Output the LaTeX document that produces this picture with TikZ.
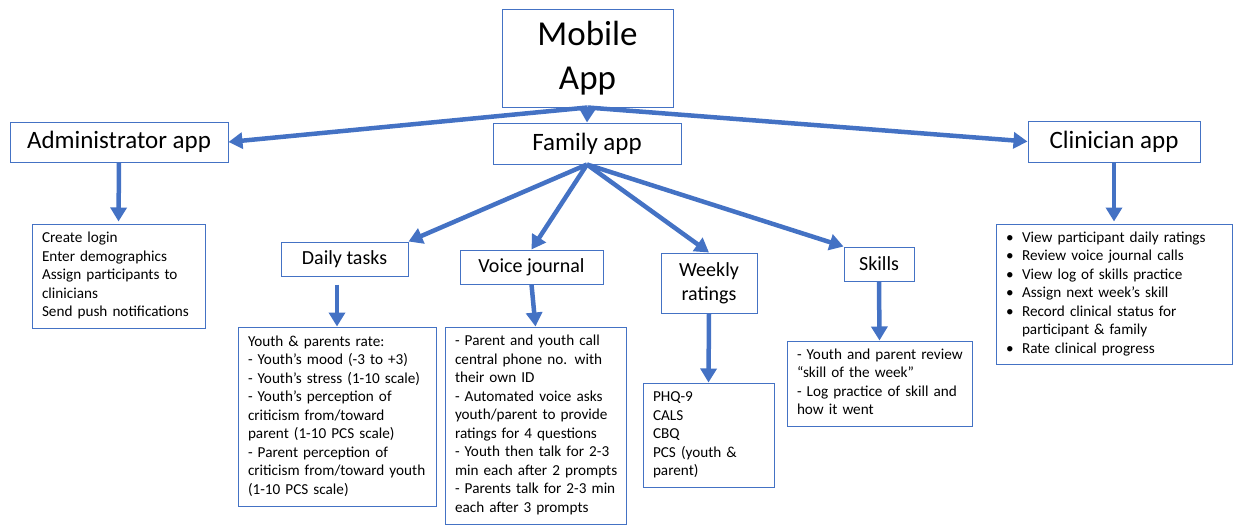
\documentclass[tikz,border=0pt]{standalone}
\usepackage{fontspec}
\setmainfont{Carlito}
\usetikzlibrary{arrows.meta}

\definecolor{appblue}{RGB}{68,114,196}
\newcommand\listdot{\makebox[16pt][l]{\textbullet}}

\begin{document}
\begin{tikzpicture}[x=1pt,y=1pt,
  box/.style={draw=appblue,line width=1pt,inner sep=0pt,align=center},
  listbox/.style={draw=appblue,line width=1pt,inner xsep=10pt,inner ysep=0pt,align=left,font=\fontsize{15.2}{18.5}\selectfont},
  link/.style={draw=appblue,line width=4.5pt,-{Triangle[length=14pt,width=16pt]}}]
\useasboundingbox (0,0) rectangle (1235,-525);
% top level
\node [box,minimum width=171pt,minimum height=98pt,font=\fontsize{35}{44}\selectfont] (mobile) at (587.5,-58) {Mobile\\App};
\node [box,minimum width=218pt,minimum height=40pt,font=\fontsize{25}{30}\selectfont] (admin) at (119,-142) {Administrator app};
\node [box,minimum width=188pt,minimum height=41pt,font=\fontsize{25}{30}\selectfont] (family) at (587,-143.5) {Family app};
\node [box,minimum width=172pt,minimum height=41pt,font=\fontsize{25}{30}\selectfont] (clinician) at (1114,-141.5) {Clinician app};
% family app parts
\node [box,minimum width=127pt,minimum height=34pt,font=\fontsize{20}{24}\selectfont] (daily) at (344.5,-259) {Daily tasks};
\node [box,minimum width=143pt,minimum height=34pt,font=\fontsize{20}{24}\selectfont] (voice) at (531.5,-267) {Voice journal};
\node [box,minimum width=96pt,minimum height=60pt,font=\fontsize{20}{24}\selectfont] (weekly) at (709,-283) {Weekly\\ratings};
\node [box,minimum width=70pt,minimum height=34pt,font=\fontsize{20}{24}\selectfont] (skills) at (879,-264) {Skills};
% lists
\node [listbox,text width=153pt,minimum height=104pt] (adminlist) at (118.5,-276) {\begin{tabular}{@{}l@{}}Create login\\Enter demographics\\Assign participants to\\clinicians\\Send push notifications\end{tabular}};
\node [listbox,text width=178pt,minimum height=179pt] (dailylist) at (337,-416.5) {\begin{tabular}{@{}l@{}}Youth \& parents rate:\\- Youth’s mood (-3 to +3)\\- Youth’s stress (1-10 scale)\\- Youth’s perception of\\criticism from/toward\\parent (1-10 PCS scale)\\- Parent perception of\\criticism from/toward youth\\(1-10 PCS scale)\end{tabular}};
\node [listbox,text width=161pt,minimum height=197pt] (voicelist) at (535.5,-425.5) {\begin{tabular}{@{}l@{}}- Parent and youth call\\central phone no. with\\their own ID\\- Automated voice asks\\youth/parent to provide\\ratings for 4 questions\\- Youth then talk for 2-3\\min each after 2 prompts\\- Parents talk for 2-3 min\\each after 3 prompts\end{tabular}};
\node [listbox,text width=111pt,minimum height=104pt] (weeklylist) at (708.5,-435) {\begin{tabular}{@{}l@{}}PHQ-9\\CALS\\CBQ\\PCS (youth \&\\parent)\end{tabular}};
\node [listbox,text width=165pt,minimum height=85pt] (skillslist) at (879.5,-383.5) {\begin{tabular}{@{}l@{}}- Youth and parent review\\“skill of the week”\\- Log practice of skill and\\how it went\end{tabular}};
\node [listbox,text width=216pt,minimum height=140pt] (clinlist) at (1114,-294) {\begin{tabular}{@{}l@{}}\listdot View participant daily ratings\\\listdot Review voice journal calls\\\listdot View log of skills practice\\\listdot Assign next week’s skill\\\listdot Record clinical status for\\\hspace*{16pt}participant \& family\\\listdot Rate clinical progress\end{tabular}};
% connectors
\draw [link] (mobile.south) -- (admin.east);
\draw [link] (mobile.south) -- (family.north);
\draw [link] (mobile.south) -- (clinician.west);
\draw [link] (family.south) -- (daily.north east);
\draw [link] (family.south) -- (voice.north);
\draw [link] (family.south) -- (weekly.north);
\draw [link] (family.south) -- (skills.north west);
\draw [link,shorten >=2pt] (admin.south) -- (adminlist.north);
\draw [link,shorten >=2pt] (clinician.south) -- (clinlist.north);
\draw [link,shorten <=8pt] (daily.south -| dailylist.north) -- (dailylist.north);
\draw [link] (voice.south) -- (voicelist.north);
\draw [link] (weekly.south) -- (weeklylist.north);
\draw [link] (skills.south) -- (skillslist.north);
\end{tikzpicture}
\end{document}
